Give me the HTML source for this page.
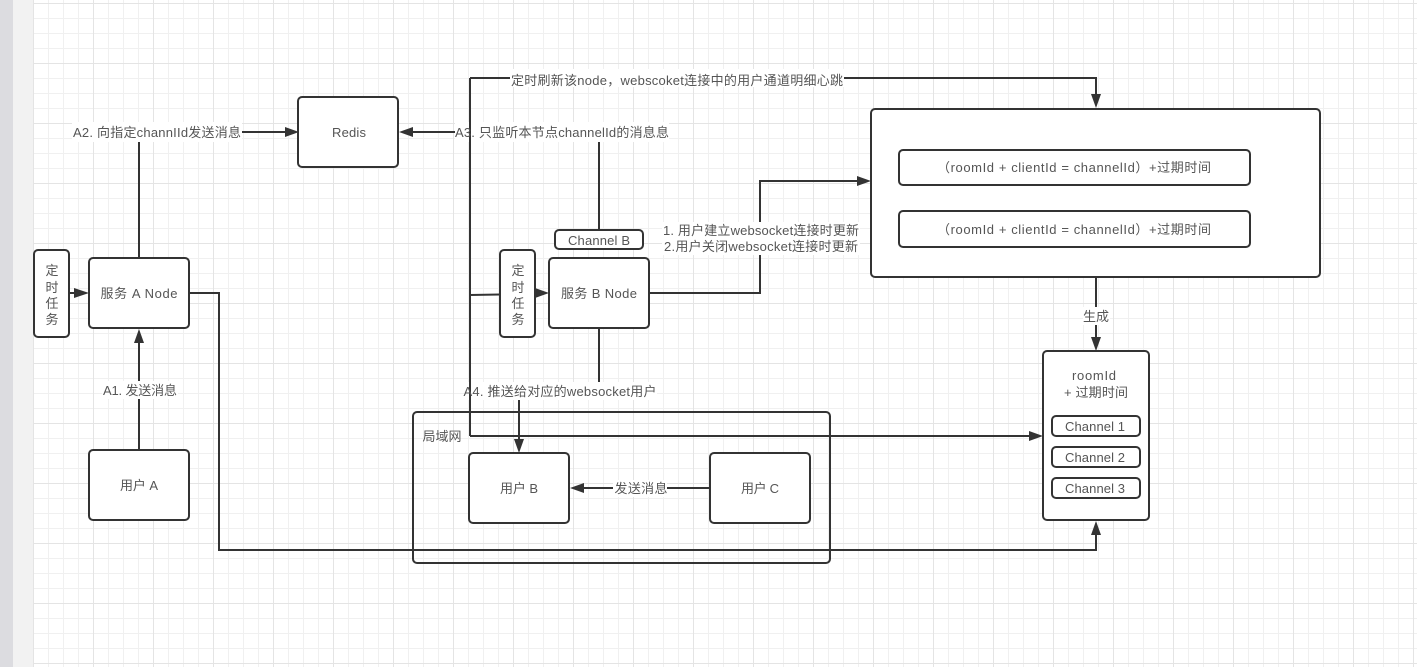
<!DOCTYPE html>
<html><head><meta charset="utf-8">
<style>
html,body{margin:0;padding:0;background:#fff}
svg{display:block}
text{font-family:"Liberation Sans","Noto Sans CJK SC",sans-serif;font-size:13px;fill:#555;text-anchor:middle}
.b{fill:#fff;stroke:#333;stroke-width:2}
.l{fill:none;stroke:#333;stroke-width:2}
.a{fill:#333;stroke:none}
.m{fill:#fff;stroke:none}
</style></head><body>
<svg width="1417" height="667" viewBox="0 0 1417 667" xmlns="http://www.w3.org/2000/svg">
<defs>
<pattern id="g1" x="33" y="3" width="15" height="15" patternUnits="userSpaceOnUse"><path d="M0.5 0V15M0 0.5H15" stroke="#f0f0f0" stroke-width="1" fill="none"/></pattern>
<pattern id="g2" x="33" y="3" width="60" height="60" patternUnits="userSpaceOnUse"><path d="M0.5 0V60M0 0.5H60" stroke="#e4e4e4" stroke-width="1" fill="none"/></pattern>
</defs>
<rect width="1417" height="667" fill="#fff"/>
<rect x="33" width="1384" height="667" fill="url(#g1)"/>
<rect x="33" width="1384" height="667" fill="url(#g2)"/>
<rect x="0" y="0" width="13" height="667" fill="#dcdce0"/>
<rect x="13" y="0" width="20" height="667" fill="#f2f2f2"/>

<!-- connectors -->
<path class="l" d="M139 258V132H288"/><path class="a" d="M299 132L285 127V137Z"/>
<path class="l" d="M599 230V132H409"/><path class="a" d="M399 132L413 127V137Z"/>
<path class="l" d="M510 78H470M844 78H1096V96"/><path class="a" d="M1096 108L1091 94H1101Z"/>
<path class="l" d="M470 436H1032"/><path class="a" d="M1043 436L1029 431V441Z"/>
<path class="l" d="M470 295L500 294.500"/>
<path class="a" d="M549 293L535 288V298Z"/>
<path class="l" d="M70 293H78"/><path class="a" d="M89 293L74 288V298Z"/>
<path class="l" d="M139 450V340"/><path class="a" d="M139 329L134 343H144Z"/>
<path class="l" d="M189 293H219V550H1096V533"/><path class="a" d="M1096 521L1091 535H1101Z"/>
<path class="l" d="M649 293H760V181H860"/><path class="a" d="M871 181L857 176V186Z"/>
<path class="l" d="M1096 277V341"/><path class="a" d="M1096 351L1091 337H1101Z"/>
<path class="l" d="M599 328V382"/>
<path class="l" d="M519 400V443"/><path class="a" d="M519 453L514 439H524Z"/>
<path class="l" d="M710 488H580"/><path class="a" d="M570 488L584 483V493Z"/>

<!-- nodes -->
<rect class="b" x="298" y="97" width="100" height="70" rx="4"/>
<rect class="b" x="34" y="250" width="35" height="87" rx="4"/>
<rect class="b" x="89" y="258" width="100" height="70" rx="4"/>
<rect class="b" x="89" y="450" width="100" height="70" rx="4"/>
<rect class="b" x="500" y="250" width="35" height="87" rx="4"/>
<rect class="b" x="549" y="258" width="100" height="70" rx="4"/>
<rect class="b" x="555" y="230" width="88" height="19" rx="4"/>
<rect class="l" x="413" y="412" width="417" height="151" rx="4"/>
<rect class="b" x="469" y="453" width="100" height="70" rx="4"/>
<rect class="b" x="710" y="453" width="100" height="70" rx="4"/>
<rect class="b" x="871" y="109" width="449" height="168" rx="4"/>
<rect class="b" x="899" y="150" width="351" height="35" rx="4"/>
<rect class="b" x="899" y="211" width="351" height="36" rx="4"/>
<rect class="b" x="1043" y="351" width="106" height="169" rx="4"/>
<rect class="b" x="1052" y="416" width="88" height="20" rx="4"/>
<rect class="b" x="1052" y="447" width="88" height="20" rx="4"/>
<rect class="b" x="1052" y="478" width="88" height="20" rx="4"/>

<!-- label backgrounds -->
<rect class="m" x="72" y="122" width="170" height="20"/>
<rect class="m" x="455" y="122" width="214" height="20"/>
<rect class="m" x="510" y="69" width="334" height="18"/>
<rect class="m" x="662" y="222" width="198" height="33"/>
<rect class="m" x="102" y="381" width="76" height="18"/>
<rect class="m" x="464" y="382" width="193" height="18"/>
<rect class="m" x="613" y="480" width="54" height="17"/>
<rect class="m" x="1083" y="307" width="27" height="18"/>

<!-- long vertical runs over the label backgrounds -->
<path class="l" d="M470 78V436"/>

<!-- labels -->
<text x="349" y="137" textLength="34">Redis</text>
<text x="139" y="298" textLength="77">服务 A Node</text>
<text x="139" y="490" textLength="38">用户 A</text>
<text x="599" y="298" textLength="76">服务 B Node</text>
<text x="599" y="245" textLength="62">Channel B</text>
<text x="52" y="275">定</text><text x="52" y="292">时</text><text x="52" y="308">任</text><text x="52" y="324">务</text>
<text x="518" y="275">定</text><text x="518" y="292">时</text><text x="518" y="308">任</text><text x="518" y="324">务</text>
<text x="442" y="441" textLength="39">局域网</text>
<text x="519" y="493" textLength="38">用户 B</text>
<text x="760" y="493" textLength="38">用户 C</text>
<text x="1074" y="172" textLength="274">（roomId + clientId = channelId）+过期时间</text>
<text x="1074" y="234" textLength="274">（roomId + clientId = channelId）+过期时间</text>
<text x="1094" y="380" textLength="44">roomId</text>
<text x="1096" y="397" textLength="64">+ 过期时间</text>
<text x="1095" y="431" textLength="60">Channel 1</text>
<text x="1095" y="462" textLength="60">Channel 2</text>
<text x="1095" y="493" textLength="60">Channel 3</text>
<text x="157" y="137" textLength="168">A2. 向指定channIId发送消息</text>
<text x="562" y="137" textLength="214">A3. 只监听本节点channelId的消息息</text>
<text x="677" y="85" textLength="332">定时刷新该node，webscoket连接中的用户通道明细心跳</text>
<text x="761" y="235" textLength="196">1. 用户建立websocket连接时更新</text>
<text x="761" y="251" textLength="194">2.用户关闭websocket连接时更新</text>
<text x="140" y="395" textLength="74">A1. 发送消息</text>
<text x="560" y="396" textLength="193">A4. 推送给对应的websocket用户</text>
<text x="641" y="493" textLength="53">发送消息</text>
<text x="1096" y="321">生成</text>
</svg>
</body></html>
